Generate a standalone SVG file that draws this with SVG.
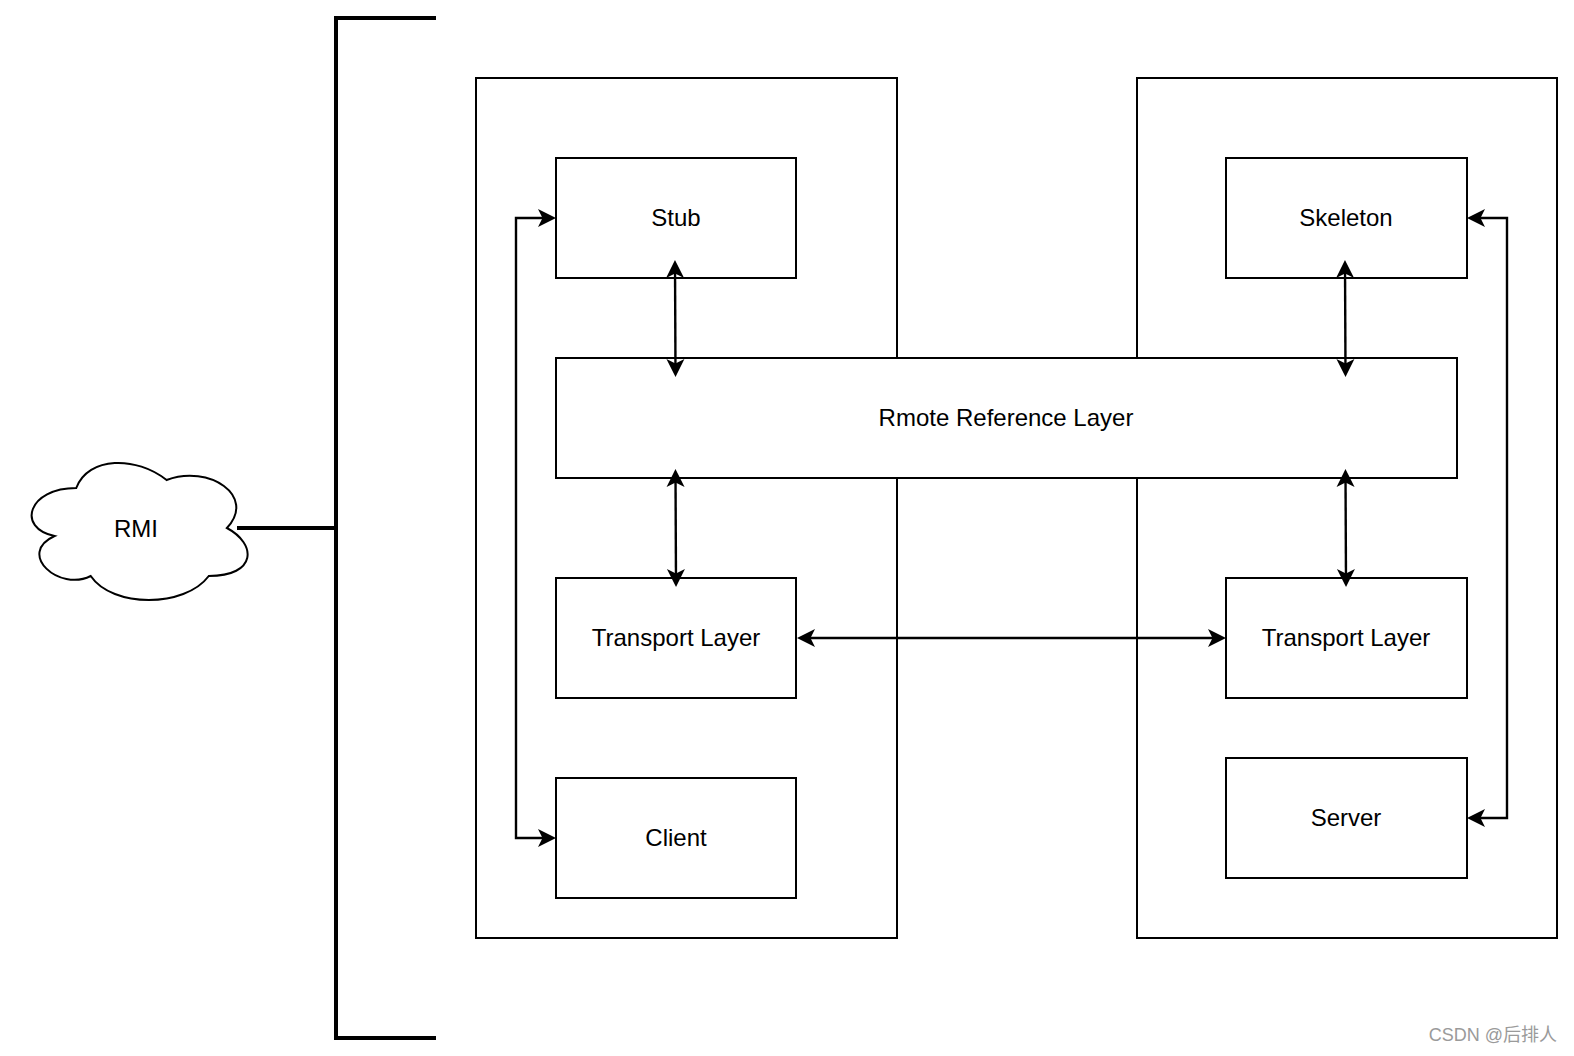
<svg xmlns="http://www.w3.org/2000/svg" width="1574" height="1056" viewBox="0 0 1574 1056">
<style>
.box{fill:#fff;stroke:#000;stroke-width:2}
.cont{fill:none;stroke:#000;stroke-width:2}
.lbl{font-family:"Liberation Sans",Arial,sans-serif;font-size:24px;fill:#000;text-anchor:middle;dominant-baseline:central}
.conn{fill:none;stroke:#000;stroke-width:2.4}
.bracket{fill:none;stroke:#000;stroke-width:4}
</style>
<defs>
<marker id="arr" markerUnits="userSpaceOnUse" orient="auto-start-reverse" refX="0" refY="0" markerWidth="40" markerHeight="40" overflow="visible">
<path d="M 4 0 L -14 -9 L -9.5 0 L -14 9 Z" fill="#000"/>
</marker>
</defs>
<rect width="1574" height="1056" fill="#fff"/>
<g id="containers">
<rect id="client-side" class="cont" x="476" y="78" width="421" height="860"/>
<rect id="server-side" class="cont" x="1137" y="78" width="420" height="860"/>
</g>
<g id="rmi">
<path class="box" d="M 76.25 488 C 28.05 488 16 528 54.56 536 C 16 553.6 59.38 592 90.71 576 C 112.4 608 184.7 608 208.8 576 C 257 576 257 544 226.9 528 C 257 496 208.8 464 166.6 480 C 136.5 456 88.3 456 76.25 488 Z"/>
<text class="lbl" x="136" y="528">RMI</text>
</g>
<g id="bracket">
<path class="bracket" d="M 436 18 H 336 V 1038 H 436"/>
<path class="bracket" d="M 237 528 H 336"/>
</g>
<g id="stub"><rect class="box" x="556" y="158" width="240" height="120"/><text class="lbl" x="676" y="217">Stub</text></g>
<g id="skeleton"><rect class="box" x="1226" y="158" width="241" height="120"/><text class="lbl" x="1346" y="217">Skeleton</text></g>
<g id="remote-ref"><rect class="box" x="556" y="358" width="901" height="120"/><text class="lbl" x="1006" y="417">Rmote Reference Layer</text></g>
<g id="transport-left"><rect class="box" x="556" y="578" width="240" height="120"/><text class="lbl" x="676" y="637">Transport Layer</text></g>
<g id="transport-right"><rect class="box" x="1226" y="578" width="241" height="120"/><text class="lbl" x="1346" y="637">Transport Layer</text></g>
<g id="client"><rect class="box" x="556" y="778" width="240" height="120"/><text class="lbl" x="676" y="837">Client</text></g>
<g id="server"><rect class="box" x="1226" y="758" width="241" height="120"/><text class="lbl" x="1346" y="817">Server</text></g>
<g id="connectors">
<path class="conn" d="M 675 264 L 675.5 373" marker-start="url(#arr)" marker-end="url(#arr)"/>
<path class="conn" d="M 675.5 473 L 676 583" marker-start="url(#arr)" marker-end="url(#arr)"/>
<path class="conn" d="M 1345 264 L 1345.5 373" marker-start="url(#arr)" marker-end="url(#arr)"/>
<path class="conn" d="M 1345.5 473 L 1346 583" marker-start="url(#arr)" marker-end="url(#arr)"/>
<path class="conn" d="M 801 638 L 1222 638" marker-start="url(#arr)" marker-end="url(#arr)"/>
<path class="conn" d="M 552 218 H 516 V 838 H 552" marker-start="url(#arr)" marker-end="url(#arr)"/>
<path class="conn" d="M 1471 218 H 1507 V 818 H 1471" marker-start="url(#arr)" marker-end="url(#arr)"/>
</g>
<text x="1557" y="1035" font-family="'Liberation Sans','Noto Sans CJK SC',sans-serif" font-size="18" fill="#9a9a9a" text-anchor="end" dominant-baseline="central">CSDN @后排人</text>
</svg>
